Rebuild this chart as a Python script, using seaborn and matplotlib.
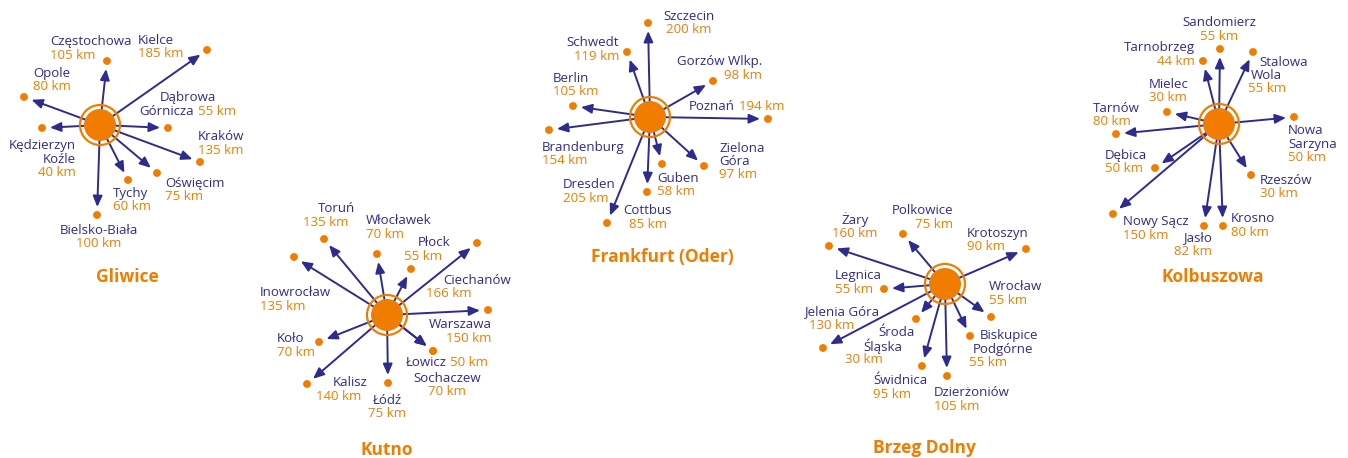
import numpy as np
import pandas as pd
import matplotlib
matplotlib.use("Agg")
import matplotlib.pyplot as plt
from matplotlib.patches import Circle
import seaborn as sns

# --- data: one hub per panel, destination names / distances / where the dot sits (px offset from hub)
gliwice_cities = ["Częstochowa", "Kielce", "Opole", "Dąbrowa\nGórnicza", "Kędzierzyn\nKoźle",
                  "Kraków", "Oświęcim", "Tychy", "Bielsko-Biała"]
gliwice_km = [105, 185, 80, 55, 40, 135, 75, 60, 100]
gliwice_dx = [7, 107, -76, 68, -58, 100, 57, 28, -3]
gliwice_dy = [-64, -75, -28, 3, 3, 37, 48, 55, 90]

kutno_cities = ["Toruń", "Włocławek", "Płock", "Ciechanów", "Inowrocław", "Warszawa",
                "Koło", "Łowicz", "Sochaczew", "Kalisz", "Łódź"]
kutno_km = [135, 70, 55, 166, 135, 150, 70, 50, 70, 140, 75]
kutno_dx = [-63, -10, 24, 90, -93, 101, -68, 46, 46, -80, 1]
kutno_dy = [-76, -61, -46, -72, -58, -5, 27, 36, 36, 69, 68]

frankfurt_cities = ["Szczecin", "Schwedt", "Gorzów Wlkp.", "Berlin", "Poznań", "Brandenburg",
                    "Zielona\nGóra", "Guben", "Cottbus", "Dresden"]
frankfurt_km = [200, 119, 98, 105, 194, 154, 97, 58, 85, 205]
frankfurt_dx = [-2, -23, 63, -77, 118, -101, 54, 12, -3, -43]
frankfurt_dy = [-94, -65, -36, -11, 2, 13, 49, 47, 75, 106]

brzeg_cities = ["Żary", "Polkowice", "Krotoszyn", "Legnica", "Wrocław", "Jelenia Góra",
                "Środa\nŚląska", "Biskupice\nPodgórne", "Świdnica", "Dzierżoniów"]
brzeg_km = [160, 75, 90, 55, 55, 130, 30, 55, 95, 105]
brzeg_dx = [-116, -42, 81, -61, 46, -122, -29, 25, -23, 2]
brzeg_dy = [-38, -50, -35, 5, 33, 64, 35, 52, 82, 92]

kolb_cities = ["Sandomierz", "Tarnobrzeg", "Stalowa\nWola", "Mielec", "Tarnów", "Nowa\nSarzyna",
               "Dębica", "Rzeszów", "Nowy Sącz", "Jasło", "Krosno"]
kolb_km = [55, 44, 55, 30, 80, 50, 50, 30, 150, 82, 80]
kolb_dx = [1, -16, 34, -52, -103, 75, -64, 32, -106, -15, 4]
kolb_dy = [-75, -63, -72, -12, 10, -7, 44, 51, 90, 102, 102]

hub_names = ["Gliwice", "Kutno", "Frankfurt (Oder)", "Brzeg Dolny", "Kolbuszowa"]

# --- layout (pixels)
hub_xy = [(100, 125), (387, 315), (650, 117), (945, 284), (1219, 124)]
title_xy = [(127, 277), (387, 450), (662, 257), (924, 448), (1213, 277)]

# label anchor: x, y of first line, alignment, km on same line as last name line
label_layout = {
    "Częstochowa": (50, 42, "left", False), "Kielce": (138, 40, "left", False),
    "Opole": (33, 73, "left", False), "Dąbrowa\nGórnicza": (188, 98, "center", True),
    "Kędzierzyn\nKoźle": (76, 146, "right", False), "Kraków": (198, 137, "left", False),
    "Oświęcim": (165, 183, "left", False), "Tychy": (113, 193, "left", False),
    "Bielsko-Biała": (99, 230, "center", False),

    "Toruń": (331, 209, "center", False), "Włocławek": (366, 221, "left", False),
    "Płock": (418, 243, "left", False), "Ciechanów": (443, 280, "left", False),
    "Inowrocław": (260, 293, "left", False), "Warszawa": (492, 325, "right", False),
    "Koło": (277, 339, "left", False), "Łowicz": (447, 363, "center", True),
    "Sochaczew": (447, 378, "center", False), "Kalisz": (367, 383, "right", False),
    "Łódź": (387, 400, "center", False),

    "Szczecin": (689, 16, "center", False), "Schwedt": (619, 43, "right", False),
    "Gorzów Wlkp.": (762, 62, "right", False), "Berlin": (553, 78, "left", False),
    "Poznań": (689, 107, "left", True), "Brandenburg": (542, 147, "left", False),
    "Zielona\nGóra": (719, 148, "left", False), "Guben": (657, 178, "left", False),
    "Cottbus": (648, 211, "center", False), "Dresden": (563, 185, "left", False),

    "Żary": (855, 220, "center", False), "Polkowice": (953, 211, "right", False),
    "Krotoszyn": (967, 233, "left", False), "Legnica": (835, 276, "left", False),
    "Wrocław": (989, 287, "left", False), "Jelenia Góra": (804, 312, "left", False),
    "Środa\nŚląska": (915, 333, "right", False), "Biskupice\nPodgórne": (1038, 336, "right", False),
    "Świdnica": (873, 381, "left", False), "Dzierżoniów": (934, 393, "left", False),

    "Sandomierz": (1219, 23, "center", False), "Tarnobrzeg": (1195, 48, "right", False),
    "Stalowa\nWola": (1251, 62, "left", False), "Mielec": (1149, 84, "left", False),
    "Tarnów": (1093, 108, "left", False), "Nowa\nSarzyna": (1288, 131, "left", False),
    "Dębica": (1105, 155, "left", False), "Rzeszów": (1260, 180, "left", False),
    "Nowy Sącz": (1123, 222, "left", False), "Jasło": (1212, 238, "right", False),
    "Krosno": (1231, 219, "left", False),
}
# per-line x shifts where the original lines are staggered
line_nudge = {
    "Toruń": [5, -5], "Płock": [0, -14], "Ciechanów": [0, -17], "Kalisz": [0, -6],
    "Jelenia Góra": [0, 5], "Środa\nŚląska": [0, -13, -32], "Biskupice\nPodgórne": [0, -5, -31],
    "Stalowa\nWola": [8, 0, -3],
}

BLUE = "#2e2b8e"
ORANGE = "#f07d00"
LINE_H = 13.2

sns.set_theme(style="white")
plt.rcParams["font.family"] = ["Open Sans", "DejaVu Sans"]

frames = []
for hub, (hx, hy), cities, km, dx, dy in zip(
        hub_names, hub_xy,
        [gliwice_cities, kutno_cities, frankfurt_cities, brzeg_cities, kolb_cities],
        [gliwice_km, kutno_km, frankfurt_km, brzeg_km, kolb_km],
        [gliwice_dx, kutno_dx, frankfurt_dx, brzeg_dx, kolb_dx],
        [gliwice_dy, kutno_dy, frankfurt_dy, brzeg_dy, kolb_dy]):
    frames.append(pd.DataFrame({"hub": hub, "city": cities, "km": km,
                                "hx": hx, "hy": hy,
                                "x": hx + np.array(dx), "y": hy + np.array(dy)}))
df = pd.concat(frames, ignore_index=True)

fig = plt.figure(figsize=(13.48, 4.58), dpi=100)
ax = fig.add_axes([0, 0, 1, 1])
ax.set_xlim(0, 1348)
ax.set_ylim(458, 0)
ax.axis("off")
renderer = fig.canvas.get_renderer()

# arrows from hub toward each dot, stopping a little short
for _, r in df.iterrows():
    v = np.array([r.x - r.hx, r.y - r.hy], dtype=float)
    u = v / np.linalg.norm(v)
    tip = np.array([r.x, r.y]) - 8 * u
    ax.annotate("", xy=tip, xytext=(r.hx, r.hy),
                arrowprops=dict(arrowstyle="-|>,head_length=0.65,head_width=0.28",
                                mutation_scale=10, lw=1.4, color=BLUE,
                                shrinkA=0, shrinkB=0), zorder=2)

sns.scatterplot(data=df, x="x", y="y", color=ORANGE, s=32, edgecolor="none",
                legend=False, ax=ax, zorder=3)

for (hx, hy), name, (tx, ty) in zip(hub_xy, hub_names, title_xy):
    ax.add_patch(Circle((hx, hy), 20, fill=False, ec=ORANGE, lw=1.6, zorder=4))
    ax.add_patch(Circle((hx, hy), 16, fc=ORANGE, ec="none", zorder=5))
    ax.text(tx, ty, name, color=ORANGE, fontsize=12.5, fontweight="bold",
            ha="center", va="center")


def draw_line(x, y, ha, segments):
    texts = [ax.text(0, y, s, color=c, fontsize=9.5, ha="left", va="center") for s, c in segments]
    widths = [t.get_window_extent(renderer).width for t in texts]
    gap = 4
    total = sum(widths) + gap * (len(widths) - 1)
    start = {"left": x, "center": x - total / 2, "right": x - total}[ha]
    for t, w in zip(texts, widths):
        t.set_x(start)
        start += w + gap


for _, r in df.iterrows():
    lx, ly, ha, inline = label_layout[r.city]
    lines = [[(part, BLUE)] for part in r.city.split("\n")]
    kmtxt = (f"{r.km} km", ORANGE)
    if inline:
        lines[-1].append(kmtxt)
    else:
        lines.append([kmtxt])
    nudge = line_nudge.get(r.city, [0] * len(lines))
    for i, segs in enumerate(lines):
        draw_line(lx + nudge[i], ly + i * LINE_H, ha, segs)

fig.savefig("out.png", dpi=100)
